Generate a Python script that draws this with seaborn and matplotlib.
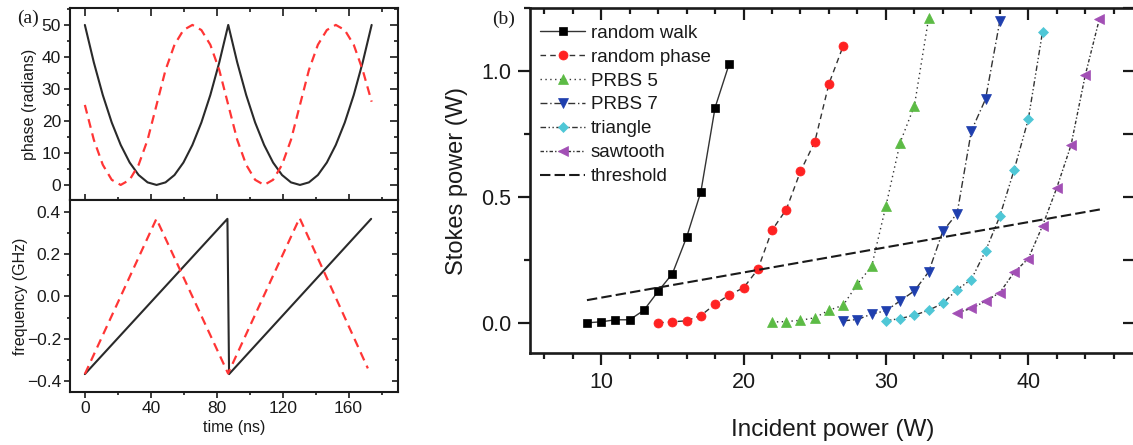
import matplotlib
matplotlib.use("Agg")
import matplotlib.pyplot as plt
import seaborn as sns
from matplotlib.ticker import MultipleLocator

# ---------------- data: panel (a) ----------------
t_phase = [0, 5.44, 10.88, 16.31, 21.75, 27.19, 32.63, 38.06, 43.5, 48.94, 54.38,
           59.81, 65.25, 70.69, 76.13, 81.56, 87.0, 92.44, 97.88, 103.31, 108.75,
           114.19, 119.63, 125.06, 130.5, 135.94, 141.38, 146.81, 152.25, 157.69,
           163.13, 168.56, 174.0]
phase_black = [50, 38.3, 28.1, 19.5, 12.5, 7.0, 3.1, 0.8, 0, 0.8, 3.1, 7.0, 12.5,
               19.5, 28.1, 38.3, 50, 38.3, 28.1, 19.5, 12.5, 7.0, 3.1, 0.8, 0, 0.8,
               3.1, 7.0, 12.5, 19.5, 28.1, 38.3, 50]
phase_red = [25, 14.1, 6.3, 1.6, 0, 1.6, 6.3, 14.1, 25, 35.9, 43.8, 48.4, 50, 48.4,
             43.8, 35.9, 25, 14.1, 6.3, 1.6, 0, 1.6, 6.3, 14.1, 25, 35.9, 43.8, 48.4,
             50, 48.4, 43.8, 35.9, 26]

t_freq_black = [0, 86.5, 87.5, 173.7]
freq_black = [-0.367, 0.366, -0.367, 0.366]
t_freq_red = [0, 43.4, 86.9, 130.3, 171.7]
freq_red = [-0.367, 0.366, -0.364, 0.37, -0.34]

# ---------------- data: panel (b) ----------------
rw_x = [9, 10, 11, 12, 13, 14, 15, 16, 17, 18, 19]
rw_y = [0.0, 0.004, 0.012, 0.012, 0.05, 0.125, 0.195, 0.34, 0.52, 0.855, 1.03]

rp_x = [14, 15, 16, 17, 18, 19, 20, 21, 22, 23, 24, 25, 26, 27]
rp_y = [0.0, 0.004, 0.008, 0.029, 0.074, 0.111, 0.139, 0.212, 0.368, 0.45, 0.602,
        0.718, 0.95, 1.10]

p5_x = [22, 23, 24, 25, 26, 27, 28, 29, 30, 31, 32, 33]
p5_y = [0.003, 0.005, 0.01, 0.02, 0.05, 0.07, 0.154, 0.225, 0.464, 0.716, 0.862, 1.21]

p7_x = [27, 28, 29, 30, 31, 32, 33, 34, 35, 36, 37, 38]
p7_y = [0.008, 0.013, 0.035, 0.048, 0.087, 0.127, 0.202, 0.364, 0.434, 0.762, 0.889, 1.198]

tri_x = [30, 31, 32, 33, 34, 35, 36, 37, 38, 39, 40, 41]
tri_y = [0.008, 0.017, 0.03, 0.05, 0.077, 0.132, 0.172, 0.286, 0.423, 0.606, 0.808, 1.155]

saw_x = [35, 36, 37, 38, 39, 40, 41, 42, 43, 44, 45]
saw_y = [0.04, 0.057, 0.086, 0.12, 0.2, 0.255, 0.385, 0.536, 0.705, 0.983, 1.208]

thr_x = [9, 45.1]
thr_y = [0.09, 0.451]

series_labels = ["random walk", "random phase", "PRBS 5", "PRBS 7", "triangle",
                 "sawtooth", "threshold"]

# ---------------- style ----------------
sns.set_theme(style="white")
plt.rcParams['font.family'] = ['Liberation Sans', 'DejaVu Sans']
plt.rcParams['axes.edgecolor'] = '#1a1a1a'
plt.rcParams['xtick.color'] = '#1a1a1a'
plt.rcParams['ytick.color'] = '#1a1a1a'
plt.rcParams['text.color'] = '#1a1a1a'
plt.rcParams['axes.labelcolor'] = '#1a1a1a'

fig = plt.figure(figsize=(11.33, 4.45), dpi=100)
ax1 = fig.add_axes([0.0618, 0.5506, 0.2895, 0.4315])
ax2 = fig.add_axes([0.0618, 0.1198, 0.2895, 0.4308], sharex=ax1)
axb = fig.add_axes([0.4678, 0.2067, 0.5340, 0.7750])

BLACK = '#2a2a2a'
RED_A = '#ff3535'

# ---- panel (a) top: phase
sns.lineplot(x=t_phase, y=phase_black, ax=ax1, color=BLACK, lw=1.5,
             estimator=None, sort=False)
sns.lineplot(x=t_phase, y=phase_red, ax=ax1, color=RED_A, lw=1.6,
             linestyle=(0, (4, 2.6)), estimator=None, sort=False)
# ---- panel (a) bottom: frequency
sns.lineplot(x=t_freq_black, y=freq_black, ax=ax2, color=BLACK, lw=1.5,
             estimator=None, sort=False)
sns.lineplot(x=t_freq_red, y=freq_red, ax=ax2, color=RED_A, lw=1.6,
             linestyle=(0, (4, 2.6)), estimator=None, sort=False)

ax1.set_xlim(-9, 190)
ax1.set_ylim(-4.7, 55.3)
ax2.set_ylim(-0.45, 0.455)

for ax in (ax1, ax2):
    for s in ax.spines.values():
        s.set_linewidth(1.5)
    ax.xaxis.set_major_locator(MultipleLocator(40))
    ax.xaxis.set_minor_locator(MultipleLocator(20))
    ax.tick_params(which='both', direction='out', top=False, right=False,
                   bottom=True, left=True, width=1.2, labelsize=12.5, pad=2)
    ax.tick_params(which='major', length=4.5)
    ax.tick_params(which='minor', length=2.5)

ax1.yaxis.set_major_locator(MultipleLocator(10))
ax1.yaxis.set_minor_locator(MultipleLocator(5))
ax2.yaxis.set_major_locator(MultipleLocator(0.2))
ax2.yaxis.set_minor_locator(MultipleLocator(0.1))
ax1.tick_params(labelbottom=False)


def mirror(ax, xmaj, xmin, ymaj, ymin, top_dir, right_dir, lmaj, lmin, width):
    sx = ax.secondary_xaxis('top')
    sx.xaxis.set_major_locator(MultipleLocator(xmaj))
    sx.xaxis.set_minor_locator(MultipleLocator(xmin))
    sx.tick_params(which='both', direction=top_dir, labeltop=False, width=width)
    sx.tick_params(which='major', length=lmaj)
    sx.tick_params(which='minor', length=lmin)
    for s in sx.spines.values():
        s.set_visible(False)
    sy = ax.secondary_yaxis('right')
    sy.yaxis.set_major_locator(MultipleLocator(ymaj))
    if ymin:
        sy.yaxis.set_minor_locator(MultipleLocator(ymin))
    sy.tick_params(which='both', direction=right_dir, labelright=False, width=width)
    sy.tick_params(which='major', length=lmaj)
    sy.tick_params(which='minor', length=lmin)
    for s in sy.spines.values():
        s.set_visible(False)


mirror(ax1, 40, 20, 10, 5, 'in', 'in', 5.5, 3, 1.2)
mirror(ax2, 40, 20, 0.2, 0.1, 'out', 'in', 4.5, 2.5, 1.2)

ax1.set_ylabel('phase (radians)', fontsize=11.5)
ax2.set_ylabel('frequency (GHz)', fontsize=11.5)
ax2.set_xlabel('time (ns)', fontsize=11.5)
ax1.yaxis.set_label_coords(-0.1, 0.5)
ax2.yaxis.set_label_coords(-0.128, 0.5)
ax2.xaxis.set_label_coords(0.5, -0.15)

# ---- panel (b)
LINE = '#333333'
specs = [
    (rw_x, rw_y, 's', '#000000', '-', 5.5),
    (rp_x, rp_y, 'o', '#ff2222', (0, (4, 3)), 6.5),
    (p5_x, p5_y, '^', '#5cbb45', (0, (1, 2.5)), 7),
    (p7_x, p7_y, 'v', '#1f3fae', (0, (5, 2, 1, 2)), 7),
    (tri_x, tri_y, 'D', '#4fc7d6', (0, (4, 1.8, 1, 1.8, 1, 1.8)), 5.5),
    (saw_x, saw_y, '<', '#a24fb5', (0, (2.5, 1.5, 1, 1.5)), 7),
]
for (xs, ys, mk, col, ls, ms), lab in zip(specs, series_labels):
    sns.lineplot(x=xs, y=ys, ax=axb, color=LINE, lw=1.0, linestyle=ls,
                 marker=mk, markersize=ms, markerfacecolor=col,
                 markeredgecolor=col, markeredgewidth=0.5,
                 estimator=None, sort=False, label=lab)
sns.lineplot(x=thr_x, y=thr_y, ax=axb, color='#1a1a1a', lw=1.5,
             linestyle=(0, (5, 2)), estimator=None, sort=False,
             label=series_labels[-1])

axb.set_xlim(5, 47.5)
axb.set_ylim(-0.12, 1.25)
for s in axb.spines.values():
    s.set_linewidth(1.9)
axb.xaxis.set_major_locator(MultipleLocator(10))
axb.xaxis.set_minor_locator(MultipleLocator(2))
axb.yaxis.set_major_locator(MultipleLocator(0.5))
axb.yaxis.set_minor_locator(MultipleLocator(0.25))
axb.tick_params(which='both', direction='out', top=False, right=False,
                bottom=True, left=True, width=1.6, labelsize=15.5)
axb.tick_params(which='major', length=8.5, pad=5)
axb.tick_params(which='minor', length=4.5)
mirror(axb, 10, 2, 0.25, None, 'in', 'in', 8.5, 4.5, 1.6)

axb.set_xlabel('Incident power (W)', fontsize=17.5)
axb.set_ylabel('Stokes power (W)', fontsize=17)
axb.xaxis.set_label_coords(0.5, -0.19)
axb.yaxis.set_label_coords(-0.102, 0.5)

leg = axb.legend(loc='upper left', bbox_to_anchor=(0.0165, 0.952), frameon=False,
                 handlelength=2.4, handletextpad=0.3, labelspacing=0.36,
                 fontsize=13.5, borderpad=0, borderaxespad=0)

fig.text(28 / 1133, 1 - 18 / 445, '(a)', ha='center', va='center',
         family=['Liberation Serif', 'DejaVu Serif'], fontsize=14)
fig.text(504 / 1133, 1 - 19 / 445, '(b)', ha='center', va='center',
         family=['Liberation Serif', 'DejaVu Serif'], fontsize=14)

fig.savefig('out.png', dpi=100, facecolor='white')
